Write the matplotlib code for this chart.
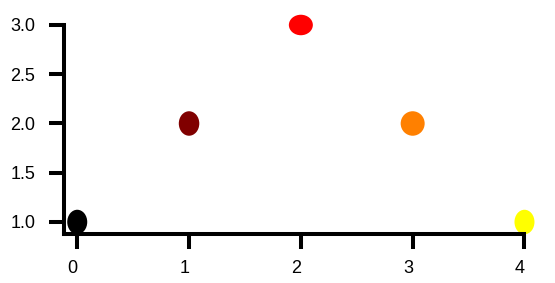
import matplotlib
matplotlib.use("Agg")
import matplotlib.pyplot as plt
from matplotlib.collections import EllipseCollection
from matplotlib.transforms import ScaledTranslation

plt.rcParams.update({
    "font.family": ["Liberation Sans", "DejaVu Sans"],
    "font.size": 13,
    "axes.spines.right": False,
    "axes.spines.top": False,
})

# data
xs = [0, 1, 2, 3, 4]
ys = [1, 2, 3, 2, 1]
colors = ["#000000", "#800000", "#ff0000", "#ff8000", "#ffff00"]
x_ticks = [0, 1, 2, 3, 4]
y_ticks = [1.0, 1.5, 2.0, 2.5, 3.0]

# marker shapes (pixels): the dots are slightly squashed ellipses
dot_w = [20, 20.5, 24, 24, 20]
dot_h = [24.5, 24.5, 20.5, 24.5, 24.5]

fig = plt.figure(figsize=(5.55, 2.83), dpi=100)
ax = fig.add_axes([0.1162, 0.1731, 0.8288, 0.7386])

dots = EllipseCollection(
    dot_w, dot_h, [0] * len(xs), units="dots",
    offsets=list(zip(xs, ys)), offset_transform=ax.transData,
    facecolors=colors, edgecolors="none", zorder=1,
)
dots.set_clip_on(False)
ax.add_collection(dots)

ax.set_xlim(-0.114, 4.0)
ax.set_ylim(0.878, 3.0)
ax.set_xticks(x_ticks)
ax.set_yticks(y_ticks)
ax.set_yticklabels(["%.1f" % v for v in y_ticks])

for side in ("left", "bottom"):
    ax.spines[side].set_linewidth(2.9)
    ax.spines[side].set_capstyle("projecting")
    ax.spines[side].set_zorder(3)
ax.tick_params(axis="both", length=10.6, width=2.9, color="black", labelsize=13)
ax.tick_params(axis="y", pad=10.3)
ax.tick_params(axis="x", pad=8)

# x labels sit a few pixels left of their ticks in the original
shift = ScaledTranslation(-4.5 / 100, 0, fig.dpi_scale_trans)
for lab in ax.get_xticklabels():
    lab.set_transform(lab.get_transform() + shift)

fig.savefig("out.png", dpi=100)
